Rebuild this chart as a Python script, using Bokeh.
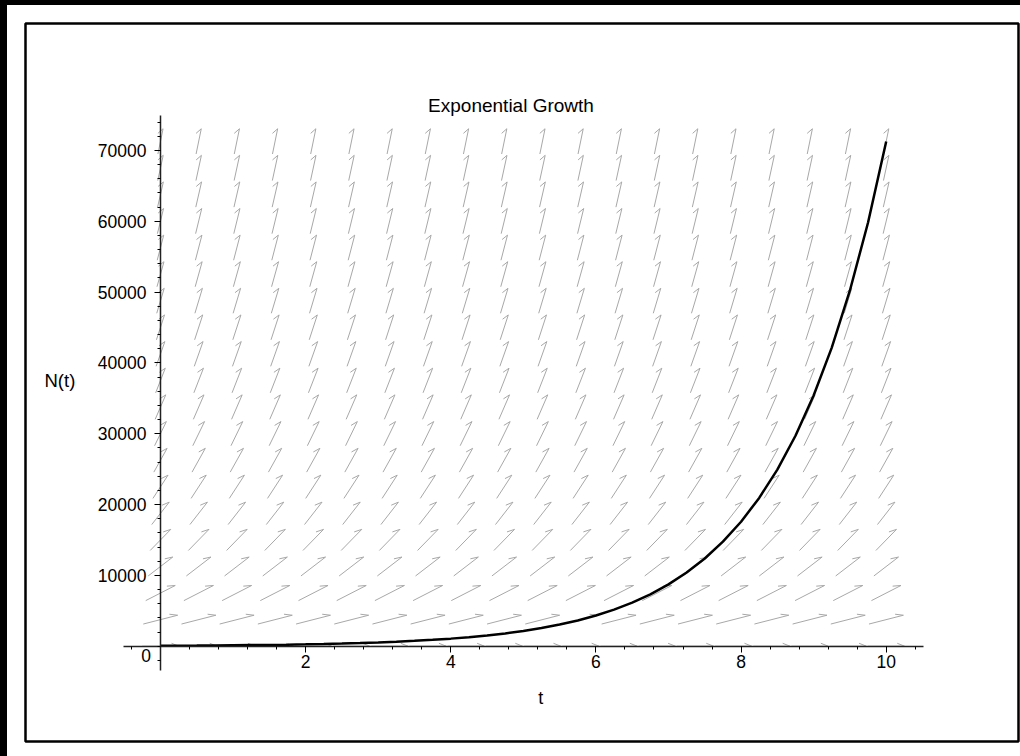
import math
from bokeh.plotting import figure
from bokeh.models import Range1d, LinearAxis, FixedTicker, Label
from bokeh.embed import file_html
from bokeh.resources import INLINE

# ---------------- data ----------------
TITLE = "Exponential Growth"
X_LABEL = "t"
Y_LABEL = "N(t)"

# solution curve N(t)
t_curve = [0, 0.25, 0.5, 0.75, 1, 1.25, 1.5, 1.75, 2, 2.25, 2.5, 2.75, 3, 3.25,
           3.5, 3.75, 4, 4.25, 4.5, 4.75, 5, 5.25, 5.5, 5.75, 6, 6.25, 6.5, 6.75,
           7, 7.25, 7.5, 7.75, 8, 8.25, 8.5, 8.75, 9, 9.25, 9.5, 9.75, 10]
N_curve = [65, 77, 92, 110, 131, 156, 186, 221, 264, 314, 374, 446, 531, 632,
           753, 897, 1069, 1273, 1517, 1807, 2153, 2564, 3055, 3639, 4335, 5164,
           6151, 7328, 8729, 10398, 12387, 14756, 17578, 20940, 24944, 29714,
           35397, 42167, 50231, 59837, 71281]

# direction-field grid (dN/dt = r N)
growth_rate = 0.7
field_t = [0, 0.5263, 1.0526, 1.5789, 2.1053, 2.6316, 3.1579, 3.6842, 4.2105,
           4.7368, 5.2632, 5.7895, 6.3158, 6.8421, 7.3684, 7.8947, 8.4211,
           8.9474, 9.4737, 10]
field_N = [0, 3752, 7504, 11256, 15008, 18760, 22512, 26264, 30016, 33768,
           37520, 41272, 45024, 48776, 52528, 56280, 60032, 63784, 67536, 71288]

x_ticks = [2, 4, 6, 8, 10]
y_ticks = [10000, 20000, 30000, 40000, 50000, 60000, 70000]
x_minor = [round(-0.4 + 0.4 * i, 2) for i in range(28)]
y_minor = [-2000 + 2000 * i for i in range(39)]

FONT = "Liberation Sans"

# ---------------- figure ----------------
p = figure(width=1013, height=751,
           x_range=Range1d(-1.860, 11.823), y_range=Range1d(-13458, 87934),
           x_axis_location=None, y_axis_location=None,
           output_backend="svg", toolbar_location=None, title_location=None,
           min_border_left=18, min_border_right=2,
           min_border_top=18, min_border_bottom=15,
           background_fill_color="white", border_fill_color="white",
           outline_line_color="black", outline_line_width=2.5)
p.grid.visible = False

# direction field arrows (shaft + single barb), sized in grid-cell units
dt_cell = field_t[1] - field_t[0]
dN_cell = field_N[1] - field_N[0]
half = 0.48
barb_len = 0.22
barb_ang = math.radians(30)
xs, ys = [], []
for tv in field_t:
    for nv in field_N:
        u = 1.0 / dt_cell
        v = growth_rate * nv / dN_cell
        L = math.hypot(u, v)
        u, v = u / L, v / L
        x0, y0 = tv - half * u * dt_cell, nv - half * v * dN_cell
        x1, y1 = tv + half * u * dt_cell, nv + half * v * dN_cell
        a = math.atan2(v, u) + math.pi - barb_ang
        x2 = x1 + barb_len * math.cos(a) * dt_cell
        y2 = y1 + barb_len * math.sin(a) * dN_cell
        xs.append([x0, x1, x2])
        ys.append([y0, y1, y2])
p.multi_line(xs, ys, line_color="#a8a8a8", line_width=1)

# solution curve
p.line(t_curve, N_curve, line_color="black", line_width=2.5)

# axes through the origin
xaxis = LinearAxis(fixed_location=0, bounds=(-0.51, 10.51),
                   ticker=FixedTicker(ticks=x_ticks, minor_ticks=x_minor))
yaxis = LinearAxis(fixed_location=0, bounds=(-3430, 74960),
                   ticker=FixedTicker(ticks=y_ticks, minor_ticks=y_minor))
for ax in (xaxis, yaxis):
    ax.axis_line_color = "#222222"
    ax.axis_line_width = 1.5
    ax.major_tick_line_color = "black"
    ax.minor_tick_line_color = "black"
    ax.major_tick_in = 0
    ax.major_tick_out = 6
    ax.minor_tick_in = 0
    ax.minor_tick_out = 3
    ax.major_label_text_font = FONT
    ax.major_label_text_font_size = "17.5px"
    ax.major_label_text_color = "black"
xaxis.major_label_standoff = 3
yaxis.major_label_standoff = 8
p.add_layout(xaxis, "below")
p.add_layout(yaxis, "left")

# texts
def add_label(x, y, text, size):
    p.add_layout(Label(x=x, y=y, text=text, text_align="center",
                       text_baseline="middle", text_font=FONT,
                       text_font_size=size, text_color="black"))

add_label(4.83, 76370, TITLE, "19px")
add_label(-1.386, 37530, Y_LABEL, "18.5px")
add_label(5.24, -7250, X_LABEL, "18px")
add_label(-0.197, -1314, "0", "17.5px")

html = file_html(p, INLINE)
html = html.replace(
    "</head>",
    "<style>html, body { background-color: #ffffff !important; }"
    " body { border-top: 5px solid #000000 !important;"
    " border-left: 7px solid #000000 !important; overflow: hidden; }</style></head>", 1)
open("out.html", "w").write(html)
